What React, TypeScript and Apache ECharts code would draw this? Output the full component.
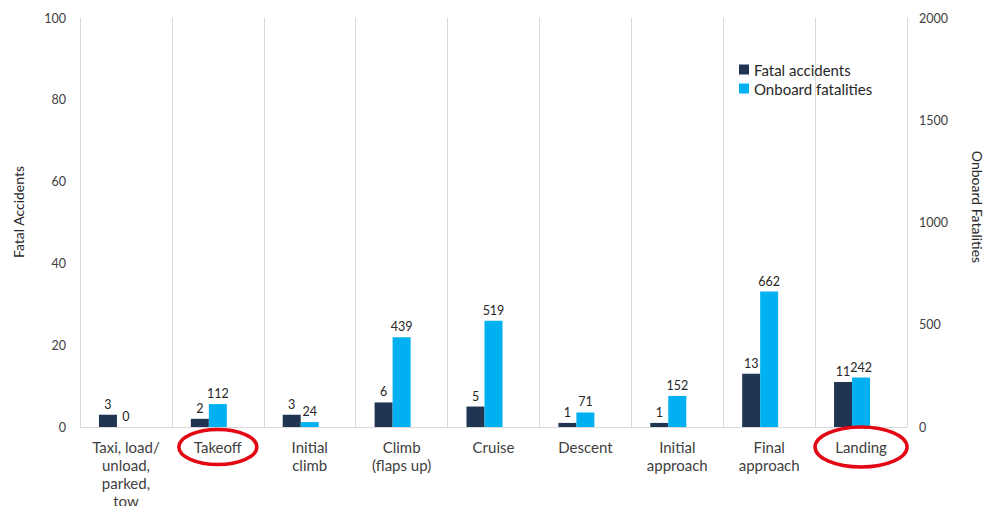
import React, { useEffect, useRef } from "react";
import * as echarts from "echarts";

const categories = [
  "Taxi, load/\nunload,\nparked,\ntow",
  "Takeoff",
  "Initial\nclimb",
  "Climb\n(flaps up)",
  "Cruise",
  "Descent",
  "Initial\napproach",
  "Final\napproach",
  "Landing",
];
const fatalAccidents = [3, 2, 3, 6, 5, 1, 1, 13, 11];
const onboardFatalities = [0, 112, 24, 439, 519, 71, 152, 662, 242];
const leftTicks = { min: 0, max: 100, interval: 20 };
const rightTicks = { min: 0, max: 2000, interval: 500 };
const highlighted = ["Takeoff", "Landing"];

const FONT = "Lato, 'Open Sans', sans-serif";
const TXT = "#404040";

export default function App() {
  const ref = useRef<HTMLDivElement>(null);
  useEffect(() => {
    document.body.style.margin = "0";
    if (!ref.current) return;
    const chart = echarts.init(ref.current, undefined, { renderer: "svg" });
    const labelStyle = {
      show: true,
      position: "top" as const,
      distance: 4,
      color: "#262626",
      fontSize: 12.5,
      fontFamily: FONT,
    };
    chart.setOption({
      animation: false,
      textStyle: { fontFamily: FONT },
      grid: {
        left: 80,
        right: 77,
        top: 18,
        bottom: 79,
        containLabel: false,
        outerBoundsMode: "none",
      },
      legend: {
        data: ["Fatal accidents", "Onboard fatalities"],
        orient: "vertical",
        left: 739,
        top: 62,
        padding: 0,
        itemWidth: 10,
        itemHeight: 10,
        itemGap: 4,
        icon: "rect",
        textStyle: { fontSize: 15, color: "#262626", fontFamily: FONT },
      },
      xAxis: {
        type: "category",
        data: categories,
        axisLine: { show: true, lineStyle: { color: "#D9D9D9", width: 1 } },
        axisTick: { show: false },
        splitLine: { show: true, interval: 0, lineStyle: { color: "#D9D9D9", width: 1 } },
        axisLabel: {
          interval: 0,
          color: TXT,
          fontSize: 15,
          lineHeight: 18,
          margin: 11,
          fontFamily: FONT,
        },
      },
      yAxis: [
        {
          type: "value",
          min: leftTicks.min,
          max: leftTicks.max,
          interval: leftTicks.interval,
          axisLine: { show: false },
          axisTick: { show: false },
          splitLine: { show: false },
          axisLabel: { color: TXT, fontSize: 12.5, margin: 14, fontFamily: FONT },
        },
        {
          type: "value",
          min: rightTicks.min,
          max: rightTicks.max,
          interval: rightTicks.interval,
          position: "right",
          axisLine: { show: false },
          axisTick: { show: false },
          splitLine: { show: false },
          axisLabel: {
            color: TXT,
            fontSize: 12.5,
            margin: 12,
            fontFamily: FONT,
            formatter: (v: number) => String(v),
          },
        },
      ],
      series: [
        {
          name: "Fatal accidents",
          type: "bar",
          yAxisIndex: 0,
          data: fatalAccidents,
          barWidth: 18,
          barGap: "0%",
          itemStyle: { color: "#1F3552" },
          label: labelStyle,
        },
        {
          name: "Onboard fatalities",
          type: "bar",
          yAxisIndex: 1,
          data: onboardFatalities,
          barWidth: 18,
          barGap: "0%",
          itemStyle: { color: "#00B0F0" },
          label: labelStyle,
        },
        {
          name: "spacer",
          type: "bar",
          yAxisIndex: 1,
          data: categories.map(() => null),
          barWidth: 18,
          barGap: "0%",
          itemStyle: { color: "transparent" },
          silent: true,
        },
      ],
    });

    const ellipses = highlighted.map((name, i) => {
      const px = chart.convertToPixel({ xAxisIndex: 0 }, name) as number;
      const rx = i === 0 ? 39 : 46;
      const ry = i === 0 ? 17.5 : 20;
      return {
        type: "ellipse",
        shape: { cx: px, cy: 447, rx, ry },
        style: { fill: "none", stroke: "#E30613", lineWidth: 3.5 },
        z: 100,
      };
    });
    chart.setOption({
      graphic: [
        ...ellipses,
        {
          type: "text",
          x: 18,
          y: 212,
          rotation: Math.PI / 2,
          style: {
            text: "Fatal Accidents",
            fill: "#262626",
            fontSize: 14,
            fontFamily: FONT,
            align: "center",
            verticalAlign: "middle",
          },
        },
        {
          type: "text",
          x: 977,
          y: 207,
          rotation: -Math.PI / 2,
          style: {
            text: "Onboard Fatalities",
            fill: "#262626",
            fontSize: 14,
            fontFamily: FONT,
            align: "center",
            verticalAlign: "middle",
          },
        },
      ],
    });
    return () => chart.dispose();
  }, []);
  return <div ref={ref} style={{ width: 984, height: 506 }} />;
}
